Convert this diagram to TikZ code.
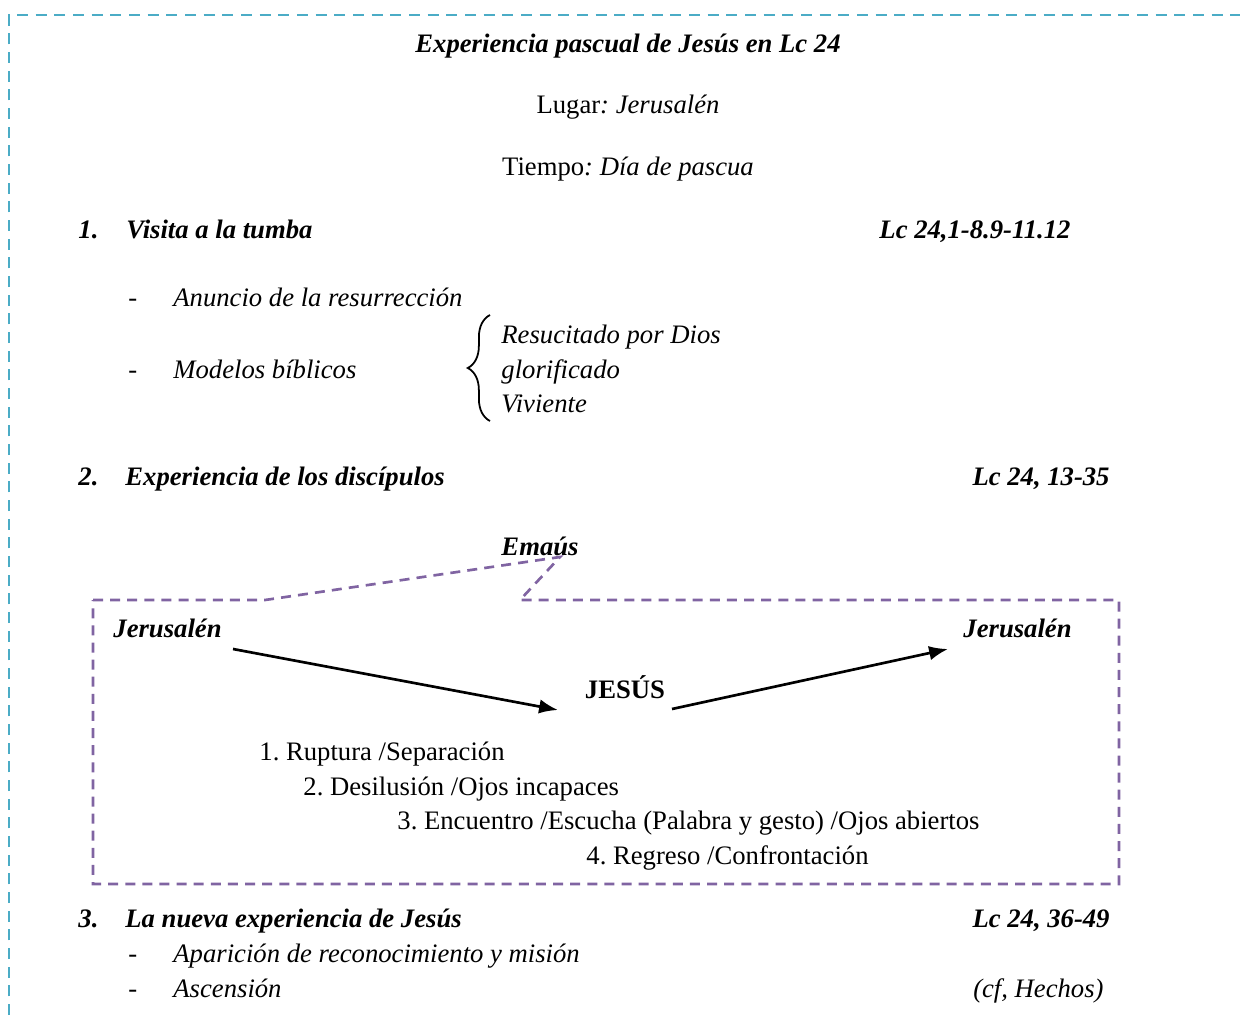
\documentclass[tikz,border=0pt]{standalone}
\usepackage{fontspec}
\setmainfont{Liberation Serif}
\usetikzlibrary{arrows.meta,decorations.pathreplacing}
\definecolor{borde}{HTML}{4BACC6}
\definecolor{lila}{HTML}{8064A2}

\begin{document}
\fontsize{12}{14}\selectfont\frenchspacing
\begin{tikzpicture}[x=0.45pt,y=-0.45pt,
		txt/.style={inner sep=0pt,anchor=base west},
		ctxt/.style={inner sep=0pt,anchor=base},
		rtxt/.style={inner sep=0pt,anchor=base east,font=\bfseries\itshape},
		head/.style={txt,font=\bfseries\itshape},
		item/.style={txt,font=\itshape},
		flecha/.style={line width=1.2pt,-{Latex[length=8.5pt,width=6.5pt]}}]
		\useasboundingbox (0,0) rectangle (1240,1015);
		% outer frame
		\draw[borde, line width=1.3pt, dash pattern=on 5pt off 3.4pt] (9,1015) -- (9,15) -- (1240,15);
		% heading
		\node[ctxt, font=\bfseries\itshape] (titulo) at (628,52) {Experiencia pascual de Jesús en Lc 24};
		\node[ctxt] (lugar) at (628,113) {Lugar\textit{: Jerusalén}};
		\node[ctxt] (tiempo) at (628,175) {Tiempo\textit{: Día de pascua}};
		% 1.
		\node[head] (n1) at (78,238) {1.};
		\node[head] (visita) at (126,238) {Visita a la tumba};
		\node[rtxt] (ref1) at (1071,238) {Lc 24,1-8.9-11.12};
		\node[txt] (g1) at (128,306) {-};
		\node[item] (anuncio) at (173,306) {Anuncio de la resurrección};
		\node[txt] (g2) at (128,378) {-};
		\node[item] (modelos) at (173,378) {Modelos bíblicos};
		\draw[decorate, decoration={brace, amplitude=10pt}, line width=0.8pt] (490,421) -- (490,315);
		\node[item] (resucitado) at (501,343) {Resucitado por Dios};
		\node[item] (glorificado) at (501,378) {glorificado};
		\node[item] (viviente) at (501,412) {Viviente};
		% 2.
		\node[head] (n2) at (78,485) {2.};
		\node[head] (discipulos) at (125,485) {Experiencia de los discípulos};
		\node[rtxt] (ref2) at (1110,485) {Lc 24, 13-35};
		\node[ctxt, font=\bfseries\itshape] (emaus) at (540,555) {Emaús};
		\draw[lila, line width=1.2pt, dash pattern=on 4.5pt off 3.2pt]
			(93,600) -- (265,600) -- (560,557) -- (520,600) -- (1119,600) -- (1119,884) -- (93,884) -- cycle;
		\node[head] (jer1) at (113,637) {Jerusalén};
		\node[head] (jer2) at (963,637) {Jerusalén};
		\node[ctxt, font=\bfseries] (jesus) at (625,698) {JESÚS};
		\coordinate (a1) at (233,649);
		\coordinate (a2) at (558,710);
		\coordinate (b1) at (672,709);
		\coordinate (b2) at (948,649);
		\draw[flecha] (a1) -- (a2);
		\draw[flecha] (b1) -- (b2);
		\node[txt] (p1) at (259,760) {1. Ruptura /Separación};
		\node[txt] (p2) at (303,795) {2. Desilusión /Ojos incapaces};
		\node[txt] (p3) at (397,829) {3. Encuentro /Escucha (Palabra y gesto) /Ojos abiertos};
		\node[txt] (p4) at (586,864) {4. Regreso /Confrontación};
		% 3.
		\node[head] (n3) at (78,927) {3.};
		\node[head] (nueva) at (125,927) {La nueva experiencia de Jesús};
		\node[rtxt] (ref3) at (1110,927) {Lc 24, 36-49};
		\node[txt] (g3) at (128,962) {-};
		\node[item] (aparicion) at (173,962) {Aparición de reconocimiento y misión};
		\node[txt] (g4) at (128,997) {-};
		\node[item] (ascension) at (173,997) {Ascensión};
		\node[rtxt, font=\itshape] (hechos) at (1104,997) {(cf, Hechos)};
\end{tikzpicture}
\end{document}
